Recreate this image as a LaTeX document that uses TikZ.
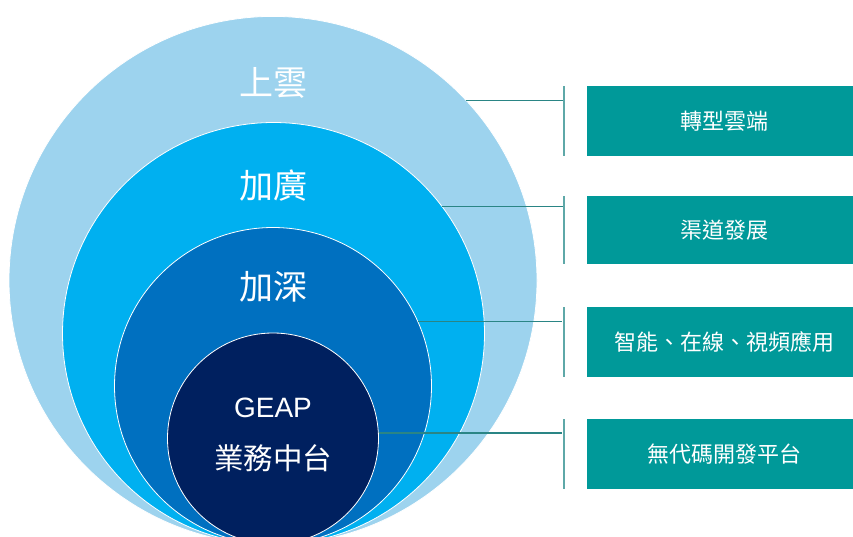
\documentclass[tikz,border=0pt]{standalone}
\usepackage{fontspec}
\setmainfont{Liberation Sans}
\newfontfamily\tcfont{Noto Sans CJK TC}
\definecolor{cloudblue}{HTML}{9DD3EE}
\definecolor{widenblue}{HTML}{00B0F0}
\definecolor{deepenblue}{HTML}{0070C0}
\definecolor{coreblue}{HTML}{00205F}
\definecolor{tealbox}{HTML}{009999}
\definecolor{barteal}{HTML}{5EA8A8}
\definecolor{lineteal}{HTML}{2A8585}
\begin{document}
\begin{tikzpicture}[x=1pt,y=-1pt,
		ring/.style={circle, draw=white, line width=0.8pt, inner sep=0pt, minimum size=#1},
		ringtext/.style={text=white, inner sep=0pt, font=\tcfont\fontsize{34}{40}\selectfont},
		tag/.style={fill=tealbox, text=white, inner sep=0pt, minimum width=274pt, minimum height=#1, font=\tcfont\fontsize{22}{26}\selectfont},
		bar/.style={fill=barteal, inner sep=0pt, minimum width=2pt, minimum height=#1},
		link/.style={draw=lineteal, line width=1.1pt}]
			\useasboundingbox (0,0) rectangle (853,537);
			\clip (0,0) rectangle (853,537);
			% nested circles
			\node [ring=528pt, fill=cloudblue] (cloud) at (273,280.4) {};
			\node [ring=422pt, fill=widenblue] (widen) at (273.5,333.5) {};
			\node [ring=317pt, fill=deepenblue] (deepen) at (273,386) {};
			\node [ring=211pt, fill=coreblue] (core) at (273,438.5) {};
			\node [ringtext] (cloudtext) at (273,82.5) {上雲};
			\node [ringtext] (widentext) at (273,186) {加廣};
			\node [ringtext] (deepentext) at (273,287) {加深};
			\node [text=white, inner sep=0pt, font=\fontsize{28}{32}\selectfont] (geap) at (273,408) {GEAP};
			\node [ringtext, font=\tcfont\fontsize{29.5}{34}\selectfont] (coretext) at (273,458.5) {業務中台};
			% brackets and boxes
			\node [bar=70pt] (bar1) at (564,121) {};
			\node [bar=68pt] (bar2) at (564,230) {};
			\node [bar=70pt] (bar3) at (563.5,342) {};
			\node [bar=70pt] (bar4) at (563.5,454) {};
			\node [tag=70pt] (tag1) at (724,121) {轉型雲端};
			\node [tag=68pt] (tag2) at (724,230) {渠道發展};
			\node [tag=70pt] (tag3) at (724,342) {智能、在線、視頻應用};
			\node [tag=70pt] (tag4) at (724,454) {無代碼開發平台};
			\draw [link] (cloud.43) -- (cloud.43 -| bar1.west);
			\draw [link] (widen.37) -- (widen.37 -| bar2.west);
			\draw [link] (deepen.24) -- (deepen.24 -| bar3.west);
			\draw [link] (core.3) -- (core.3 -| bar4.west);
		\end{tikzpicture}
\end{document}
